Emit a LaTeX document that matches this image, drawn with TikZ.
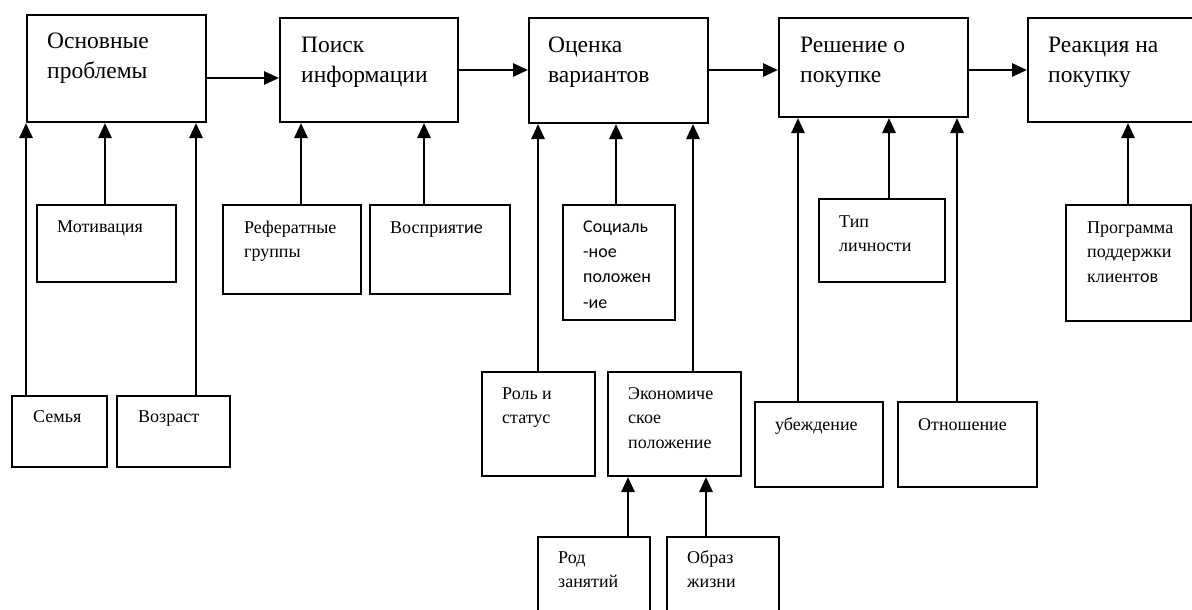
\documentclass[tikz,border=0pt]{standalone}
\usepackage{fontspec}
\setmainfont{Liberation Serif}
\newfontfamily\sansc{Carlito}
\usetikzlibrary{arrows.meta}
\begin{document}
\begin{tikzpicture}[x=1pt,y=-1pt,
  box/.style={draw,line width=2pt,inner sep=0pt,anchor=north west},
  arr/.style={line width=2.8pt,-{Triangle[length=15pt,width=13pt]}},
  mtxt/.style={font=\fontsize{23.5}{30.5}\selectfont,anchor=base west,align=left,inner sep=0pt},
  stxt/.style={font=\fontsize{18}{24.5}\selectfont,anchor=base west,align=left,inner sep=0pt}]
\useasboundingbox (0,0) rectangle (1192,610);
% main boxes
\node[box,minimum width=179pt,minimum height=107pt] (b1) at (26,14) {};
\node[box,minimum width=178pt,minimum height=104pt] (b2) at (279,17) {};
\node[box,minimum width=179pt,minimum height=105pt] (b3) at (528,17) {};
\node[box,minimum width=189pt,minimum height=99pt] (b4) at (778,17) {};
\node[box,minimum width=200pt,minimum height=104pt] (b5) at (1027,17) {};
% small boxes
\node[box,minimum width=139pt,minimum height=77pt] (mot) at (36,204) {};
\node[box,minimum width=95pt,minimum height=71pt] (sem) at (11,395) {};
\node[box,minimum width=113pt,minimum height=71pt] (voz) at (116,395) {};
\node[box,minimum width=138pt,minimum height=89pt] (ref) at (222,204) {};
\node[box,minimum width=140pt,minimum height=89pt] (vos) at (369,204) {};
\node[box,minimum width=112pt,minimum height=115pt] (soc) at (562,204) {};
\node[box,minimum width=113pt,minimum height=104pt] (rol) at (481,371) {};
\node[box,minimum width=133pt,minimum height=104pt] (eko) at (607,371) {};
\node[box,minimum width=112pt,minimum height=90pt] (rod) at (537,536) {};
\node[box,minimum width=112pt,minimum height=90pt] (obr) at (666,536) {};
\node[box,minimum width=126pt,minimum height=83pt] (tip) at (818,198) {};
\node[box,minimum width=128pt,minimum height=85pt] (ube) at (754,401) {};
\node[box,minimum width=139pt,minimum height=85pt] (otn) at (897,401) {};
\node[box,minimum width=125pt,minimum height=116pt] (prg) at (1065,204) {};
% texts (base anchor = baseline of the last line)
\node[mtxt] (tb1) at (47,78.5) {Основные\\проблемы};
\node[mtxt] (tb2) at (301,82.5) {Поиск\\информации};
\node[mtxt] (tb3) at (548,82.5) {Оценка\\вариантов};
\node[mtxt] (tb4) at (800,82.5) {Решение о\\покупке};
\node[mtxt] (tb5) at (1048,82.5) {Реакция на\\покупку};
\node[stxt] (tmot) at (57,232) {Мотивация};
\node[stxt] (tref) at (244,257.5) {Реферaтные\\группы};
\node[stxt] (tvos) at (390,233) {Восприят{\sansc ие}};
\node[stxt] (tsem) at (33,422) {Семья};
\node[stxt] (tvoz) at (138,422) {Возраст};
\node[stxt,font=\sansc\fontsize{18}{25.3}\selectfont] (tsoc) at (583,308) {Социаль\\-ное\\положен\\-ие};
\node[stxt] (trol) at (502,423.5) {Роль и\\статус};
\node[stxt] (teko) at (628,448) {Экономиче\\ское\\положение};
\node[stxt] (trod) at (558,587.5) {Род\\занятий};
\node[stxt] (tobr) at (687,587.5) {Образ\\жизни};
\node[stxt] (ttip) at (839,251.5) {Тип\\личности};
\node[stxt] (tube) at (775,430) {убеждение};
\node[stxt] (totn) at (918,430) {Отношение};
\node[stxt] (tprg) at (1087,282) {Программа\\поддержки\\клиент{\sansc ов}};
% helper coordinates
\coordinate (h1) at (0,78);
\coordinate (h2) at (0,70);
\coordinate (v1) at (26,0);
\coordinate (v2) at (105,0);
\coordinate (v3) at (196,0);
\coordinate (v4) at (301,0);
\coordinate (v5) at (424,0);
\coordinate (v6) at (538,0);
\coordinate (v7) at (616,0);
\coordinate (v8) at (693,0);
\coordinate (v9) at (628,0);
\coordinate (v10) at (706,0);
\coordinate (v11) at (798,0);
\coordinate (v12) at (889,0);
\coordinate (v13) at (957,0);
\coordinate (v14) at (1128,0);
% horizontal arrows
\draw[arr] (b1.east |- h1) -- (b2.west |- h1);
\draw[arr] (b2.east |- h2) -- (b3.west |- h2);
\draw[arr] (b3.east |- h2) -- (b4.west |- h2);
\draw[arr] (b4.east |- h2) -- (b5.west |- h2);
% vertical arrows
\draw[arr] (sem.north -| v1) -- (b1.south -| v1);
\draw[arr] (mot.north -| v2) -- (b1.south -| v2);
\draw[arr] (voz.north -| v3) -- (b1.south -| v3);
\draw[arr] (ref.north -| v4) -- (b2.south -| v4);
\draw[arr] (vos.north -| v5) -- (b2.south -| v5);
\draw[arr] (rol.north -| v6) -- (b3.south -| v6);
\draw[arr] (soc.north -| v7) -- (b3.south -| v7);
\draw[arr] (eko.north -| v8) -- (b3.south -| v8);
\draw[arr] (rod.north -| v9) -- (eko.south -| v9);
\draw[arr] (obr.north -| v10) -- (eko.south -| v10);
\draw[arr] (ube.north -| v11) -- (b4.south -| v11);
\draw[arr] (tip.north -| v12) -- (b4.south -| v12);
\draw[arr] (otn.north -| v13) -- (b4.south -| v13);
\draw[arr] (prg.north -| v14) -- (b5.south -| v14);
\end{tikzpicture}
\end{document}
